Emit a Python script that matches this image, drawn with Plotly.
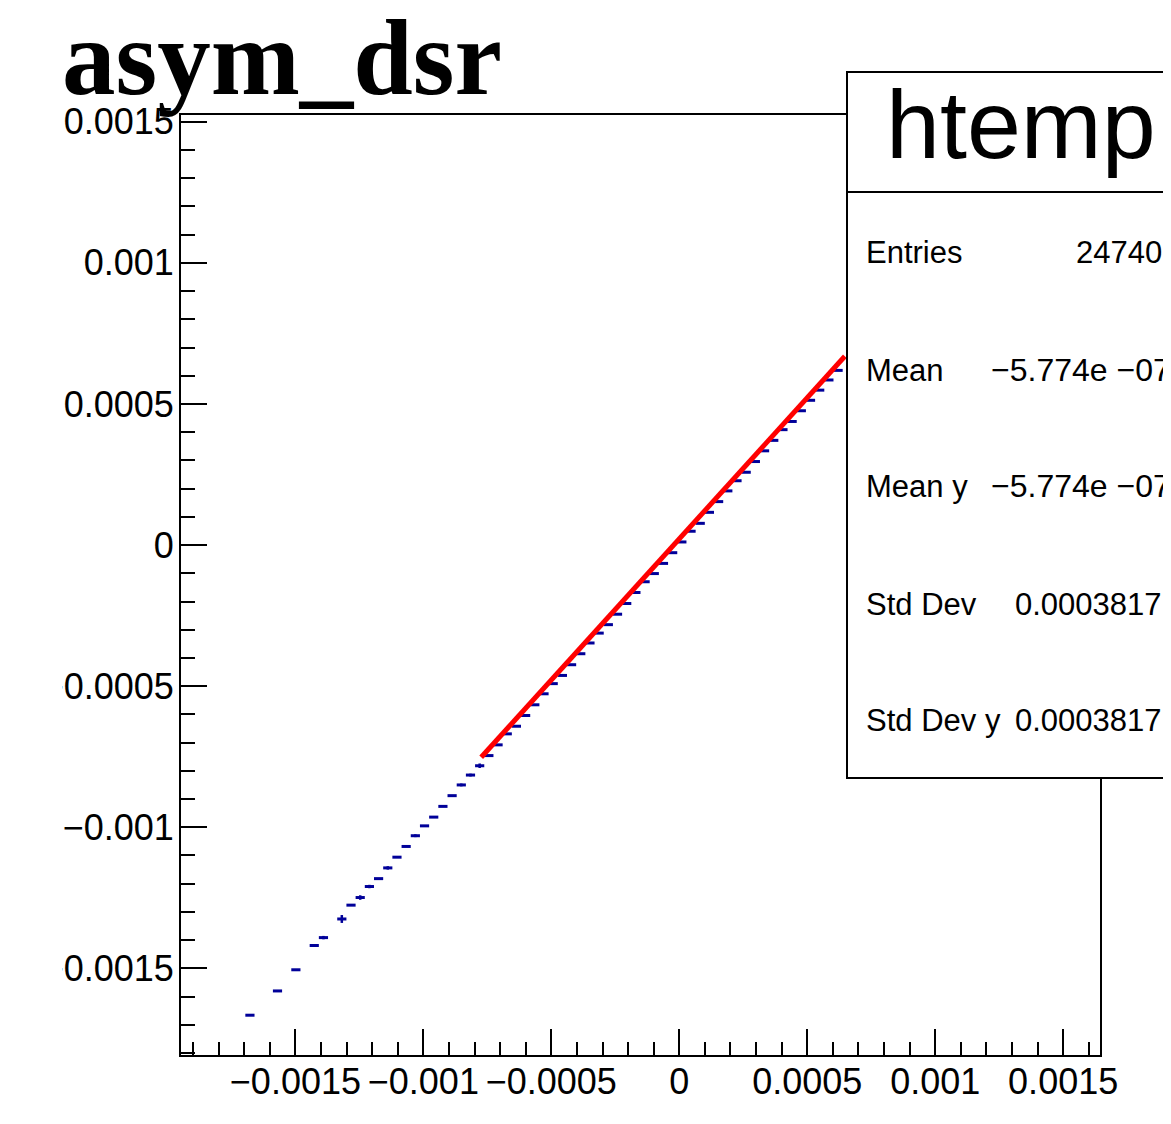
import plotly.graph_objects as go

# ---------------- data ----------------
# histogram binning of the profile (100 bins)
x_low, x_high, n_bins = -0.001947, 0.001644, 100

bin_index = [7, 10, 12, 14, 15, 17, 18, 19, 20, 21, 22, 23, 24, 25, 26, 27, 28, 29,
             30, 31, 32, 33, 34, 35, 36, 37, 38, 39, 40, 41, 42, 43, 44, 45, 46, 47,
             48, 49, 50, 51, 52, 53, 54, 55, 56, 57, 58, 59, 60, 61, 62, 63, 64, 65,
             66, 67, 68, 69, 70, 71]
profile_y = [-0.001666, -0.001580, -0.001505, -0.001419, -0.001391, -0.001325,
             -0.001276, -0.001249, -0.001210, -0.001182, -0.001144, -0.001106,
             -0.001068, -0.001030, -0.000995, -0.000964, -0.000926, -0.000888,
             -0.000850, -0.000815, -0.000782, -0.000746, -0.000708, -0.000669,
             -0.000642, -0.000604, -0.000566, -0.000527, -0.000491, -0.000462,
             -0.000424, -0.000385, -0.000347, -0.000312, -0.000282, -0.000245,
             -0.000207, -0.000168, -0.000130, -0.000101, -0.000065, -0.000027,
             0.000011, 0.000049, 0.000077, 0.000116, 0.000154, 0.000192,
             0.000228, 0.000258, 0.000296, 0.000334, 0.000371, 0.000409,
             0.000438, 0.000476, 0.000513, 0.000549, 0.000585, 0.000619]
profile_yerr = [0, 0, 0, 0, 6e-6, 1.4e-5, 0, 8e-6, 6e-6, 0, 6e-6, 0, 0, 5e-6, 0, 0,
                0, 0, 5e-6, 5e-6, 8e-6, 3e-6, 2e-6, 2e-6, 2e-6, 2e-6, 2e-6, 2e-6,
                2e-6, 2e-6, 2e-6, 2e-6, 2e-6, 2e-6, 2e-6, 2e-6, 2e-6, 2e-6, 2e-6,
                2e-6, 2e-6, 2e-6, 2e-6, 2e-6, 2e-6, 2e-6, 2e-6, 2e-6, 2e-6, 2e-6,
                2e-6, 2e-6, 2e-6, 2e-6, 2e-6, 2e-6, 2e-6, 2e-6, 2e-6, 2e-6]

# fit line (read end points)
fit_x = [-0.000774, 0.000647]
fit_y = [-0.000752, 0.000669]

x_tickvals = [-0.0015, -0.001, -0.0005, 0, 0.0005, 0.001, 0.0015]
x_ticktext = ["\u22120.0015", "\u22120.001", "\u22120.0005", "0", "0.0005", "0.001", "0.0015"]
y_tickvals = [-0.0015, -0.001, -0.0005, 0, 0.0005, 0.001, 0.0015]
y_ticktext = ["\u22120.0015", "\u22120.001", "\u22120.0005", "0", "0.0005", "0.001", "0.0015"]
y_range = [-0.001807, 0.001524]

title_text = "asym_dsr"
stats_name = "htemp"
stats_labels = ["Entries", "Mean", "Mean y", "Std Dev", "Std Dev y"]
stats_values = ["24740", "\u22125.774e \u221207", "\u22125.774e \u221207", "0.0003817", "0.0003817"]

# ---------------- layout geometry (page pixel coordinates) ----------------
OFF = 8                      # default body margin of the html page
W, H = 1171 - OFF, 1124 - OFF
PL, PR, PT, PB = 181, 1100, 115, 1055


def fx(px):
    return (px - PL) / (PR - PL)


def fy(py):
    return (PB - py) / (PB - PT)


bw = (x_high - x_low) / n_bins
bin_center = [x_low + (i + 0.5) * bw for i in bin_index]
half_w = [bw / 2] * len(bin_index)

BLUE = "#000099"
fig = go.Figure()

fig.add_trace(go.Scatter(
    x=bin_center, y=profile_y, mode="markers",
    marker=dict(size=1, color=BLUE),
    error_x=dict(type="data", array=half_w, width=0, thickness=3, color=BLUE),
    error_y=dict(type="data", array=profile_yerr, width=0, thickness=2.5, color=BLUE),
    showlegend=False, hoverinfo="skip"))

fig.add_trace(go.Scatter(
    x=fit_x, y=fit_y, mode="lines",
    line=dict(color="#ff0000", width=5),
    showlegend=False, hoverinfo="skip"))

axis_font = dict(family="Liberation Sans, Arial, sans-serif", size=36, color="black")

fig.update_xaxes(
    range=[x_low, x_high], showgrid=False, zeroline=False,
    showline=True, linecolor="black", linewidth=2, mirror=True,
    ticks="inside", ticklen=26, tickwidth=2, tickcolor="black",
    tickmode="array", tickvals=x_tickvals, ticktext=x_ticktext,
    tickfont=axis_font, ticklabelstandoff=-6,
    minor=dict(ticks="inside", ticklen=13, tickwidth=2, tickcolor="black",
               tickmode="linear", tick0=0, dtick=0.0001, showgrid=False),
)
fig.update_yaxes(
    range=y_range, showgrid=False, zeroline=False,
    showline=True, linecolor="black", linewidth=2, mirror=True,
    ticks="inside", ticklen=26, tickwidth=2, tickcolor="black",
    tickmode="array", tickvals=y_tickvals, ticktext=y_ticktext,
    tickfont=axis_font, ticklabelstandoff=-2,
    minor=dict(ticks="inside", ticklen=14, tickwidth=2, tickcolor="black",
               tickmode="linear", tick0=0, dtick=0.0001, showgrid=False),
)

shapes = [
    # clip left part of y labels (as in the reference)
    dict(type="rect", xref="paper", yref="paper", x0=fx(-40), x1=fx(62),
         y0=fy(1200), y1=fy(-50), fillcolor="white", line=dict(width=0), layer="above"),
    # stats box
    dict(type="rect", xref="paper", yref="paper", x0=fx(847), x1=fx(1240),
         y0=fy(778), y1=fy(72), fillcolor="white",
         line=dict(color="black", width=2), layer="above"),
    dict(type="line", xref="paper", yref="paper", x0=fx(847), x1=fx(1240),
         y0=fy(192), y1=fy(192), line=dict(color="black", width=2), layer="above"),
]

sans = "Liberation Sans, Arial, sans-serif"
annotations = [
    dict(text="<b>%s</b>" % title_text, xref="paper", yref="paper",
         x=fx(60), y=fy(-3), xanchor="left", yanchor="top", showarrow=False,
         font=dict(family="Liberation Serif, Times New Roman, serif", size=107, color="black")),
    dict(text=stats_name, xref="paper", yref="paper", x=fx(1021), y=fy(124),
         xanchor="center", yanchor="middle", showarrow=False,
         font=dict(family=sans, size=97, color="black")),
]
row_y = [252, 370, 486, 604, 720]
for lab, val, ry in zip(stats_labels, stats_values, row_y):
    annotations.append(dict(text=lab, xref="paper", yref="paper", x=fx(864), y=fy(ry),
                            xanchor="left", yanchor="middle", showarrow=False,
                            font=dict(family=sans, size=31, color="black")))
    if val.startswith("\u2212"):
        annotations.append(dict(text=val, xref="paper", yref="paper", x=fx(989), y=fy(ry),
                                xanchor="left", yanchor="middle", showarrow=False,
                                font=dict(family=sans, size=32, color="black")))
    else:
        annotations.append(dict(text=val, xref="paper", yref="paper", x=fx(1164), y=fy(ry),
                                xanchor="right", yanchor="middle", showarrow=False,
                                font=dict(family=sans, size=31, color="black")))

fig.update_layout(
    width=W, height=H, autosize=False,
    margin=dict(l=PL - OFF, r=1171 - PR, t=PT - OFF, b=1124 - PB, pad=0),
    paper_bgcolor="white", plot_bgcolor="white",
    shapes=shapes, annotations=annotations,
    showlegend=False,
)

fig.write_html("out.html", config={"displayModeBar": False})
